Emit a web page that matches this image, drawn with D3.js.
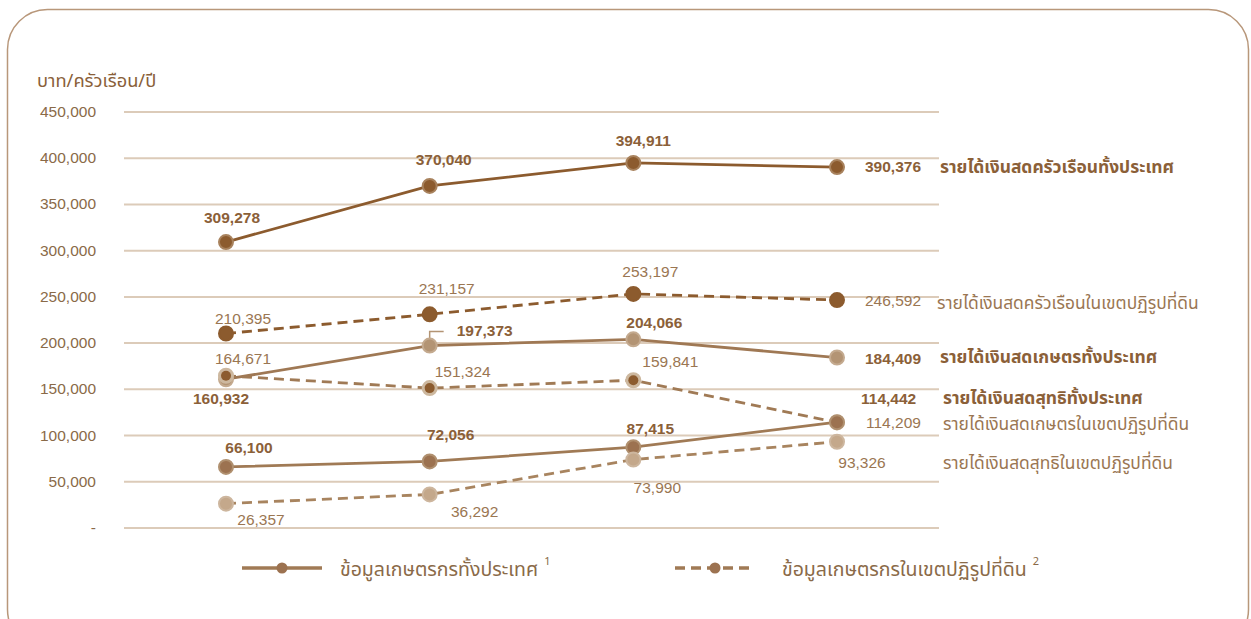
<!DOCTYPE html>
<html>
<head>
<meta charset="utf-8">
<script src="https://cdn.jsdelivr.net/npm/d3@7"></script>
<style>
  body { margin: 0; background: #fff; }
  svg text { font-family: "Liberation Sans", Arial, "Noto Sans Thai", "Noto Sans", sans-serif; }
  .thai { font-family: "Noto Sans Thai", "Noto Sans Thai UI", "Loma", "Garuda", "Noto Sans", sans-serif; }
</style>
</head>
<body>
<div id="chart"></div>
<script>
// data
var periods = [0, 1, 2, 3];
var yTicks = [0, 50000, 100000, 150000, 200000, 250000, 300000, 350000, 400000, 450000];

var hhIncomeAll = [309278, 370040, 394911, 390376];
var hhIncomeReform = [210395, 231157, 253197, 246592];
var farmIncomeAll = [160932, 197373, 204066, 184409];
var farmIncomeReform = [164671, 151324, 159841, 114209];
var netIncomeAll = [66100, 72056, 87415, 114442];
var netIncomeReform = [26357, 36292, 73990, 93326];

var seriesNames = [
  "รายได้เงินสดครัวเรือนทั้งประเทศ",
  "รายได้เงินสดครัวเรือนในเขตปฏิรูปที่ดิน",
  "รายได้เงินสดเกษตรทั้งประเทศ",
  "รายได้เงินสดเกษตรในเขตปฏิรูปที่ดิน",
  "รายได้เงินสดสุทธิทั้งประเทศ",
  "รายได้เงินสดสุทธิในเขตปฏิรูปที่ดิน"
];
var legendNames = ["ข้อมูลเกษตรกรทั้งประเทศ", "ข้อมูลเกษตรกรในเขตปฏิรูปที่ดิน"];
var yTitle = "บาท/ครัวเรือน/ปี";

// styling per series (not data)
var styles = [
  {vals: hhIncomeAll, dash: null, line: "#8c5b2e", fill: "#8c5b2e", ring: "#a8825d", r: 7, bold: true, txt: "#8b6038"},
  {vals: hhIncomeReform, dash: "10,6", line: "#8c5b2e", fill: "#8c5b2e", ring: "#8c5b2e", r: 7, bold: false, txt: "#9a7652"},
  {vals: farmIncomeAll, dash: null, line: "#9f7854", fill: "#b39474", ring: "#c4aa8f", r: 7, bold: true, txt: "#8b6038"},
  {vals: farmIncomeReform, dash: "10,6", line: "#a07a55", fill: "#8c5b2e", ring: "#cdb89f", r: 7, inner: 5, bold: false, txt: "#9a7652"},
  {vals: netIncomeAll, dash: null, line: "#a07a55", fill: "#9c7250", ring: "#b0906f", r: 7, bold: true, txt: "#8b6038"},
  {vals: netIncomeReform, dash: "10,6", line: "#a8845f", fill: "#c4a88b", ring: "#cdb69e", r: 7, bold: false, txt: "#9a7652"}
];

// value label placement [dx, dy, anchor] relative to the point
var labelPos = [
  [[6, -19, "middle"], [14, -21, "middle"], [10, -17, "middle"], [28, 5, "start"]],
  [[17, -10, "middle"], [17, -20, "middle"], [17, -17, "middle"], [28, 6, "start"]],
  [[-5, 25, "middle"], [55, -10, "middle"], [21, -11, "middle"], [28, 6, "start"]],
  [[17, -12, "middle"], [33, -11, "middle"], [37, -13, "middle"], [29, 6, "start"]],
  [[23, -14, "middle"], [21, -21, "middle"], [17, -13, "middle"], [24, -18, "start"]],
  [[35, 21, "middle"], [45, 23, "middle"], [24, 33, "middle"], [25, 26, "middle"]]
];
// series name placement [x, baseline y, bold]
var namePos = [[940, 173, true], [937, 309, false], [940, 363, true], [943, 430, false], [943, 404, true], [943, 469, false]];

var W = 1251, H = 619;
var svg = d3.select("#chart").append("svg").attr("width", W).attr("height", H);

svg.append("rect").attr("x", 7.5).attr("y", 9.5).attr("width", 1241).attr("height", 640)
  .attr("rx", 40).attr("ry", 40).attr("fill", "none").attr("stroke", "#b8977a").attr("stroke-width", 1.5);

var x = d3.scalePoint().domain(periods).range([226, 837]);
var y = d3.scaleLinear().domain([0, 450000]).range([528, 112]);

// grid
svg.append("g").selectAll("line").data(yTicks).join("line")
  .attr("x1", 124).attr("x2", 939)
  .attr("y1", d => y(d)).attr("y2", d => y(d))
  .attr("stroke", "#dccbb9").attr("stroke-width", 2);

svg.append("g").selectAll("text").data(yTicks).join("text")
  .attr("x", 96).attr("y", d => y(d) + 5)
  .attr("text-anchor", "end").attr("font-size", 15.5).attr("fill", "#8a6a48")
  .text(d => d === 0 ? "-" : d3.format(",")(d));

svg.append("text").attr("class", "thai").attr("x", 37).attr("y", 87)
  .attr("font-size", 18.3).attr("fill", "#8a5f3a").text(yTitle);

var line = d3.line().x((d, i) => x(periods[i])).y(d => y(d));

// leader for 197,373
svg.append("path")
  .attr("d", "M" + x(1) + "," + (y(farmIncomeAll[1]) - 6) + "V" + (y(farmIncomeAll[1]) - 14) + "H" + (x(1) + 14))
  .attr("fill", "none").attr("stroke", "#b39474").attr("stroke-width", 1.5);

styles.forEach(function (s) {
  svg.append("path").datum(s.vals).attr("d", line)
    .attr("fill", "none").attr("stroke", s.line).attr("stroke-width", 2.8)
    .attr("stroke-dasharray", s.dash);
});

styles.forEach(function (s, k) {
  var g = svg.append("g");
  g.selectAll("circle.o").data(s.vals).join("circle")
    .attr("cx", (d, i) => x(periods[i])).attr("cy", d => y(d))
    .attr("r", s.r).attr("fill", s.inner ? s.ring : s.fill)
    .attr("stroke", s.ring).attr("stroke-width", 2);
  if (s.inner) {
    g.selectAll("circle.i").data(s.vals).join("circle")
      .attr("cx", (d, i) => x(periods[i])).attr("cy", d => y(d))
      .attr("r", s.inner).attr("fill", s.fill);
  }
  g.selectAll("text").data(s.vals).join("text")
    .attr("x", (d, i) => x(periods[i]) + labelPos[k][i][0])
    .attr("y", (d, i) => y(d) + labelPos[k][i][1])
    .attr("text-anchor", (d, i) => labelPos[k][i][2])
    .attr("font-size", 15.5).attr("font-weight", s.bold ? "bold" : "normal")
    .attr("fill", s.txt).text(d => d3.format(",")(d));
});

svg.append("g").selectAll("text").data(seriesNames).join("text")
  .attr("class", "thai")
  .attr("x", (d, i) => namePos[i][0]).attr("y", (d, i) => namePos[i][1])
  .attr("font-size", 17.4).attr("font-weight", (d, i) => namePos[i][2] ? "bold" : "normal")
  .attr("fill", (d, i) => namePos[i][2] ? "#8b6038" : "#9a7652")
  .text(d => d);

// legend
var leg = [{x0: 242, dash: null, tx: 340, sup: "1"}, {x0: 675, dash: "10,6", tx: 782, sup: "2"}];
leg.forEach(function (l, i) {
  svg.append("line").attr("x1", l.x0).attr("x2", l.x0 + 80).attr("y1", 568).attr("y2", 568)
    .attr("stroke", "#a07a55").attr("stroke-width", 3.5).attr("stroke-dasharray", l.dash);
  svg.append("circle").attr("cx", l.x0 + 40).attr("cy", 568).attr("r", 5.5).attr("fill", "#9c7250");
  var t = svg.append("text").attr("class", "thai").attr("x", l.tx).attr("y", 576)
    .attr("font-size", 19.5).attr("fill", "#8a6a48");
  t.append("tspan").text(legendNames[i]);
  t.append("tspan").attr("dx", 6).attr("dy", -11).attr("font-size", 11).text(l.sup);
});
</script>
</body>
</html>
